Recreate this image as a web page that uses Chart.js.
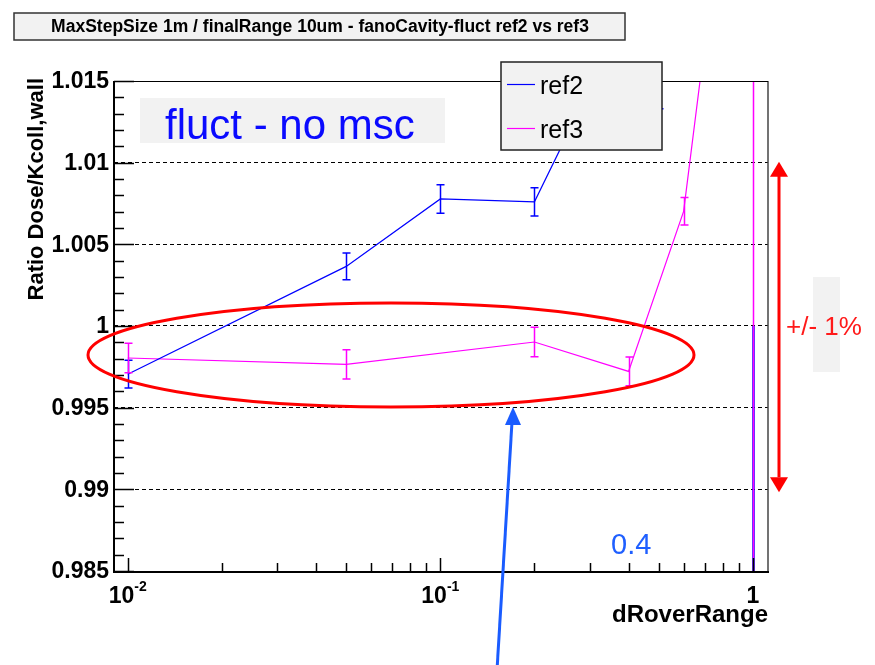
<!DOCTYPE html>
<html>
<head>
<meta charset="utf-8">
<script src="https://cdn.jsdelivr.net/npm/chart.js@4/dist/chart.umd.min.js"></script>
<style>
  html, body { margin: 0; padding: 0; background: #ffffff; }
  #wrap { width: 875px; height: 665px; position: relative; }
</style>
</head>
<body>
<div id="wrap"><canvas id="c" width="875" height="665"></canvas></div>
<script>
// ---- data ----
const titleText = 'MaxStepSize 1m / finalRange 10um - fanoCavity-fluct ref2 vs ref3';
const seriesNames = ['ref2', 'ref3'];
const seriesColors = ['#0000ff', '#ff00ff'];

const ref2X   = [0.01, 0.05, 0.1, 0.2, 0.3, 0.5, 1];
const ref2Y   = [0.99705, 1.00365, 1.00778, 1.00760, 1.01450, 1.01420, 0.97];
const ref2Err = [0.00085, 0.00082, 0.00087, 0.00086, 0.00090, 0.00090, 0.03];

const ref3X   = [0.01, 0.05, 0.2, 0.4, 0.6, 0.7, 1];
const ref3Y   = [0.99804, 0.99765, 0.99902, 0.99722, 1.00702, 1.01720, 1.0];
const ref3Err = [0.00090, 0.00089, 0.00090, 0.00088, 0.00084, 0.00090, 0.02];

const yTickValues = [0.985, 0.99, 0.995, 1, 1.005, 1.01, 1.015];
const yTickLabels = ['0.985', '0.99', '0.995', '1', '1.005', '1.01', '1.015'];
const xTickValues = [0.01, 0.1, 1];
const xTickLabels = [['10', '-2'], ['10', '-1'], ['1', '']];

const xTitle = 'dRoverRange';
const yTitle = 'Ratio Dose/Kcoll,wall';
const boxLabel = 'fluct - no msc';
const bandLabel = '+/- 1%';
const bandLow = 0.99, bandHigh = 1.01;
const noteLabel = '0.4';

// axis ranges
const X_MIN = 0.00904, X_MAX = 1.117;
const Y_MIN = 0.985, Y_MAX = 1.015;

const FONT = "'Liberation Sans', Arial, Helvetica, sans-serif";

function points(xs, ys) { return xs.map((x, i) => ({ x: x, y: ys[i] })); }

// the point at dRoverRange = 1 is shown only by its error bar
const hideLast = c => (c.p1.parsed.x >= 1 ? 'rgba(0,0,0,0)' : undefined);

const errors = [ref2Err, ref3Err];

const decor = {
  id: 'decor',
  afterDatasetsDraw(chart) {
    const ctx = chart.ctx;
    const xs = chart.scales.x, ys = chart.scales.y;
    const a = chart.chartArea;

    // error bars (no end caps on the very wide ones)
    ctx.save();
    ctx.beginPath();
    ctx.rect(a.left, a.top, a.right - a.left, a.bottom - a.top);
    ctx.clip();
    chart.data.datasets.forEach((ds, di) => {
      ctx.strokeStyle = ds.borderColor;
      ds.data.forEach((p, i) => {
        const e = errors[di][i];
        const px = Math.round(xs.getPixelForValue(p.x)) + 0.5;
        const top = ys.getPixelForValue(p.y + e);
        const bot = ys.getPixelForValue(p.y - e);
        const wide = e > 0.01;
        ctx.lineWidth = wide && di === 0 ? 2.5 : 1.5;
        ctx.beginPath();
        ctx.moveTo(px, top); ctx.lineTo(px, bot);
        if (!wide) {
          ctx.moveTo(px - 4, top); ctx.lineTo(px + 4, top);
          ctx.moveTo(px - 4, bot); ctx.lineTo(px + 4, bot);
        }
        ctx.stroke();
      });
    });
    ctx.restore();

    // frame
    ctx.save();
    ctx.strokeStyle = '#444';
    ctx.lineWidth = 1.5;
    ctx.beginPath();
    ctx.moveTo(a.right, a.top); ctx.lineTo(a.right, a.bottom);
    ctx.stroke();
    ctx.strokeStyle = '#000';
    ctx.lineWidth = 1;
    ctx.beginPath();
    ctx.moveTo(a.left, a.top + 0.5); ctx.lineTo(a.right, a.top + 0.5);
    ctx.stroke();
    ctx.lineWidth = 2;
    ctx.beginPath();
    ctx.moveTo(a.left, a.top); ctx.lineTo(a.left, a.bottom + 1);
    ctx.lineTo(a.right + 1, a.bottom + 1);
    ctx.stroke();

    // y ticks (major every 0.005, minor every 0.001)
    ctx.lineWidth = 1.5;
    ctx.beginPath();
    for (let k = 0; k <= 30; k++) {
      const v = Y_MIN + k * 0.001;
      const py = Math.round(ys.getPixelForValue(v)) + 0.5;
      const len = k % 5 === 0 ? 20 : 10;
      ctx.moveTo(a.left, py); ctx.lineTo(a.left + len, py);
    }
    ctx.stroke();

    // x ticks (log decades with minor subdivisions)
    ctx.beginPath();
    [0.01, 0.1, 1].forEach(d => {
      for (let m = 1; m <= 9; m++) {
        const v = d * m;
        if (v < X_MIN || v > X_MAX) continue;
        const px = Math.round(xs.getPixelForValue(v)) + 0.5;
        const len = m === 1 ? 13 : 8;
        ctx.moveTo(px, a.bottom); ctx.lineTo(px, a.bottom - len);
      }
    });
    ctx.stroke();

    // y tick labels
    ctx.fillStyle = '#000';
    ctx.font = 'bold 23px ' + FONT;
    ctx.textAlign = 'right';
    ctx.textBaseline = 'middle';
    yTickValues.forEach((v, i) => {
      ctx.fillText(yTickLabels[i], a.left - 5, ys.getPixelForValue(v) + 1);
    });

    // x tick labels with exponent
    ctx.textBaseline = 'alphabetic';
    ctx.textAlign = 'left';
    xTickValues.forEach((v, i) => {
      const [base, exp] = xTickLabels[i];
      ctx.font = 'bold 23px ' + FONT;
      const wb = ctx.measureText(base).width;
      ctx.font = 'bold 14px ' + FONT;
      const we = exp ? ctx.measureText(exp).width : 0;
      const px = xs.getPixelForValue(v);
      const x0 = px - (wb + we) / 2;
      ctx.font = 'bold 23px ' + FONT;
      ctx.fillText(base, x0, a.bottom + 32);
      if (exp) {
        ctx.font = 'bold 14px ' + FONT;
        ctx.fillText(exp, x0 + wb, a.bottom + 20);
      }
    });

    // axis titles
    ctx.font = 'bold 24px ' + FONT;
    ctx.textAlign = 'right';
    ctx.fillText(xTitle, a.right, a.bottom + 51);
    ctx.save();
    ctx.translate(43, a.top - 3);
    ctx.rotate(-Math.PI / 2);
    ctx.font = 'bold 22px ' + FONT;
    ctx.textAlign = 'right';
    ctx.fillText(yTitle, 0, 0);
    ctx.restore();

    // legend
    const lx = 501, ly = 62, lw = 161, lh = 88;
    ctx.fillStyle = '#f2f2f2';
    ctx.fillRect(lx, ly, lw, lh);
    ctx.strokeStyle = '#222';
    ctx.lineWidth = 1.5;
    ctx.strokeRect(lx, ly, lw, lh);
    ctx.font = '25px ' + FONT;
    ctx.textAlign = 'left';
    ctx.textBaseline = 'middle';
    seriesNames.forEach((name, i) => {
      const yy = ly + 22 + i * 44;
      ctx.strokeStyle = seriesColors[i];
      ctx.lineWidth = 1.2;
      ctx.beginPath();
      ctx.moveTo(lx + 6, yy + 0.5); ctx.lineTo(lx + 34, yy + 0.5);
      ctx.stroke();
      ctx.fillStyle = '#000';
      ctx.fillText(name, lx + 39, yy + 3);
    });
    ctx.restore();

    // title box
    ctx.save();
    ctx.fillStyle = '#f2f2f2';
    ctx.fillRect(14, 13, 611, 27);
    ctx.strokeStyle = '#333';
    ctx.lineWidth = 1.5;
    ctx.strokeRect(14, 13, 611, 27);
    ctx.fillStyle = '#000';
    ctx.font = 'bold 17.5px ' + FONT;
    ctx.textAlign = 'center';
    ctx.textBaseline = 'middle';
    ctx.fillText(titleText, 320, 27);

    // label box inside the plot
    ctx.fillStyle = '#f2f2f2';
    ctx.fillRect(140, 98, 305, 45);
    ctx.fillStyle = '#0a0aff';
    ctx.font = '42px ' + FONT;
    ctx.textAlign = 'left';
    ctx.textBaseline = 'alphabetic';
    ctx.fillText(boxLabel, 165, 139);

    // red ellipse around the ref3 points
    ctx.strokeStyle = '#ff0000';
    ctx.lineWidth = 3;
    ctx.beginPath();
    ctx.ellipse(391, 355, 303, 52, 0, 0, Math.PI * 2);
    ctx.stroke();

    // +/- 1% band arrow
    const ax = 779;
    const yTop = ys.getPixelForValue(bandHigh);
    const yBot = ys.getPixelForValue(bandLow);
    ctx.fillStyle = '#ff0000';
    ctx.lineWidth = 3;
    ctx.beginPath();
    ctx.moveTo(ax, yTop + 12); ctx.lineTo(ax, yBot - 12);
    ctx.stroke();
    ctx.beginPath();
    ctx.moveTo(ax, yTop - 1); ctx.lineTo(ax - 9, yTop + 14); ctx.lineTo(ax + 9, yTop + 14); ctx.closePath();
    ctx.fill();
    ctx.beginPath();
    ctx.moveTo(ax, yBot + 3); ctx.lineTo(ax - 9, yBot - 12); ctx.lineTo(ax + 9, yBot - 12); ctx.closePath();
    ctx.fill();
    ctx.fillStyle = '#f2f2f2';
    ctx.fillRect(813, 277, 27, 95);
    ctx.fillStyle = '#ff1a1a';
    ctx.font = '26px ' + FONT;
    ctx.textBaseline = 'middle';
    ctx.fillText(bandLabel, 786, 328);

    // note
    ctx.fillStyle = '#1f5fff';
    ctx.font = '29px ' + FONT;
    ctx.textBaseline = 'alphabetic';
    ctx.fillText(noteLabel, 611, 554);

    // blue pointer arrow
    ctx.strokeStyle = '#1a5cff';
    ctx.fillStyle = '#1a5cff';
    ctx.lineWidth = 3;
    ctx.beginPath();
    ctx.moveTo(497, 670); ctx.lineTo(512, 422);
    ctx.stroke();
    ctx.beginPath();
    ctx.moveTo(513, 407); ctx.lineTo(505, 425); ctx.lineTo(521, 425); ctx.closePath();
    ctx.fill();
    ctx.restore();
  }
};

new Chart(document.getElementById('c').getContext('2d'), {
  type: 'line',
  data: {
    datasets: [
      {
        label: seriesNames[0],
        data: points(ref2X, ref2Y),
        borderColor: seriesColors[0],
        borderWidth: 1.2,
        pointRadius: 0,
        fill: false,
        tension: 0,
        segment: { borderColor: hideLast }
      },
      {
        label: seriesNames[1],
        data: points(ref3X, ref3Y),
        borderColor: seriesColors[1],
        borderWidth: 1.2,
        pointRadius: 0,
        fill: false,
        tension: 0,
        segment: { borderColor: hideLast }
      }
    ]
  },
  options: {
    responsive: false,
    animation: false,
    devicePixelRatio: 1,
    layout: { padding: { left: 114, right: 107, top: 81, bottom: 94 } },
    plugins: { legend: { display: false }, tooltip: { enabled: false }, title: { display: false } },
    scales: {
      x: { type: 'logarithmic', min: X_MIN, max: X_MAX, display: false },
      y: {
        type: 'linear', min: Y_MIN, max: Y_MAX,
        ticks: { display: false, stepSize: 0.005 },
        grid: { color: '#000', lineWidth: 1, drawTicks: false },
        border: { display: false, dash: [4, 3] },
        afterFit(s) { s.width = 0; }
      }
    }
  },
  plugins: [decor]
});
</script>
</body>
</html>
